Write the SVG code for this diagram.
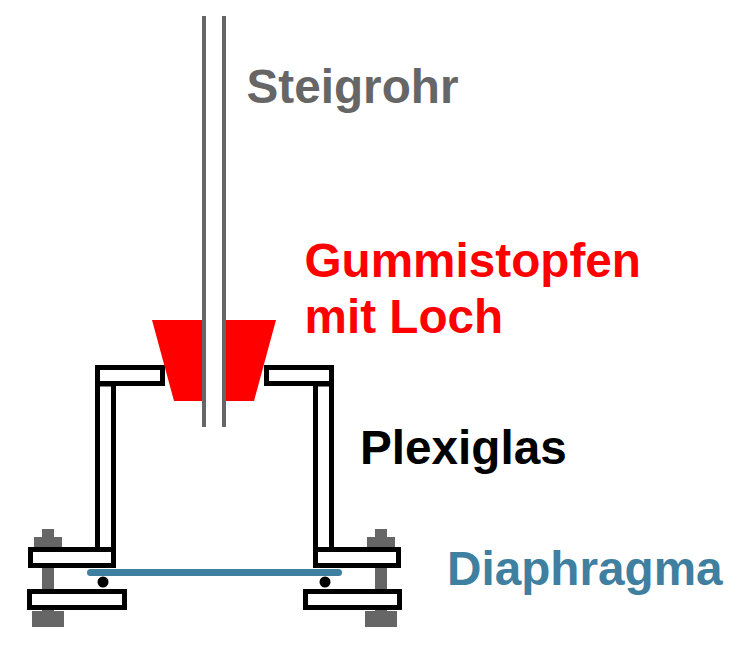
<svg xmlns="http://www.w3.org/2000/svg" width="740" height="648" viewBox="0 0 740 648">
<style>
.t{font-family:"Liberation Sans",Arial,sans-serif;font-weight:bold;font-size:47.7px}
.w{fill:#fff;stroke:#000;stroke-width:5}
.g{fill:#666}
</style>
<rect width="740" height="648" fill="#fff"/>
<g id="bolt-left">
<rect class="g" x="42" y="529" width="12" height="85"/><rect class="g" x="34" y="537" width="28" height="11"/><rect class="g" x="32" y="611" width="32" height="16"/>
</g>
<g id="bolt-right">
<rect class="g" x="375" y="529" width="12" height="85"/><rect class="g" x="367" y="537" width="28" height="11"/><rect class="g" x="365" y="611" width="32" height="16"/>
</g>
<g id="plexiglas-left">
<rect class="w" x="97.5" y="384" width="16" height="166"/>
<rect class="w" x="97.5" y="367.5" width="65" height="16"/>
<rect class="w" x="30.5" y="549.5" width="83" height="16"/>
<rect class="w" x="29.5" y="591.5" width="95" height="16"/>
<circle cx="103" cy="582" r="5.5"/>
</g>
<g id="plexiglas-right">
<rect class="w" x="315.5" y="384" width="16" height="166"/>
<rect class="w" x="266.5" y="367.5" width="65" height="16"/>
<rect class="w" x="315.5" y="549.5" width="83" height="16"/>
<rect class="w" x="305.5" y="591.5" width="94" height="16"/>
<circle cx="325" cy="582" r="5.5"/>
</g>
<g id="diaphragma">
<rect x="87" y="569" width="255" height="7" rx="3.5" fill="#3f7f9f"/>
</g>
<g id="gummistopfen">
<polygon points="152,320 276,320 254,401 174,401" fill="#f00"/>
</g>
<g id="steigrohr">
<rect x="206" y="16" width="16" height="411" fill="#fff"/>
<rect class="g" x="202" y="16" width="4" height="411"/>
<rect class="g" x="222" y="16" width="4" height="411"/>
</g>
<g id="labels">
<text class="t" x="246.5" y="103" fill="#666">Steigrohr</text>
<text class="t" x="304.5" y="277" fill="#f00">Gummistopfen</text>
<text class="t" x="304.5" y="333" fill="#f00">mit Loch</text>
<text class="t" x="360" y="464" fill="#000">Plexiglas</text>
<text class="t" x="447" y="585" fill="#3f7f9f">Diaphragma</text>
</g>
</svg>
